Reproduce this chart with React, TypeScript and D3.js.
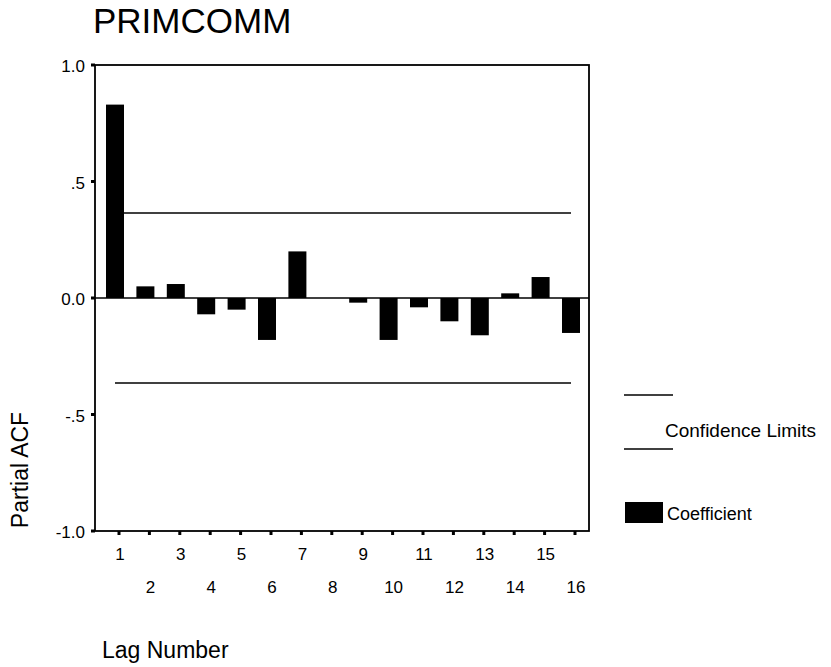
import React, { useEffect, useRef } from "react";
import * as d3 from "d3";

// partial autocorrelation, lags 1..16
const lags = [1, 2, 3, 4, 5, 6, 7, 8, 9, 10, 11, 12, 13, 14, 15, 16];
const pacf = [0.83, 0.05, 0.06, -0.07, -0.05, -0.18, 0.2, 0.0, -0.02, -0.18, -0.04, -0.1, -0.16, 0.02, 0.09, -0.15];
const confLimit = 0.365;
const yTicks = [1, 0.5, 0, -0.5, -1];
const yTickLabels = ["1.0", ".5", "0.0", "-.5", "-1.0"];

const App = () => {
  const ref = useRef<SVGSVGElement>(null);

  useEffect(() => {
    const svg = d3.select(ref.current);
    svg.selectAll("*").remove();

    const left = 95, right = 589, top = 65, bottom = 531;
    const font = "'Liberation Sans', Arial, sans-serif";

    const x = d3.scaleLinear().domain([1, 16]).range([115, 571]);
    const y = d3.scaleLinear().domain([-1, 1]).range([bottom, top]);
    const barW = 18;

    svg.attr("font-family", font);

    // title
    svg.append("text")
      .attr("x", 93).attr("y", 33)
      .attr("font-size", 35)
      .text("PRIMCOMM");

    // frame
    svg.append("rect")
      .attr("x", left).attr("y", top)
      .attr("width", right - left).attr("height", bottom - top)
      .attr("fill", "none").attr("stroke", "#000").attr("stroke-width", 1.8);

    // confidence limits
    [confLimit, -confLimit].forEach(v => {
      svg.append("line")
        .attr("x1", x(1)).attr("x2", x(16))
        .attr("y1", y(v)).attr("y2", y(v))
        .attr("stroke", "#000").attr("stroke-width", 1.6);
    });

    // bars
    svg.append("g").selectAll("rect")
      .data(pacf)
      .join("rect")
        .attr("x", (d, i) => x(lags[i]) - barW / 2)
        .attr("y", d => y(Math.max(0, d)))
        .attr("width", barW)
        .attr("height", d => Math.abs(y(d) - y(0)))
        .attr("fill", "#000");

    // zero line
    svg.append("line")
      .attr("x1", left).attr("x2", right)
      .attr("y1", y(0)).attr("y2", y(0))
      .attr("stroke", "#000").attr("stroke-width", 1.6);

    // y ticks
    const yg = svg.append("g");
    yTicks.forEach((t, i) => {
      yg.append("line")
        .attr("x1", left - 4).attr("x2", left)
        .attr("y1", y(t)).attr("y2", y(t))
        .attr("stroke", "#000").attr("stroke-width", 3);
      yg.append("text")
        .attr("x", left - 10).attr("y", y(t) + 7)
        .attr("text-anchor", "end")
        .attr("font-size", 17)
        .text(yTickLabels[i]);
    });

    // x ticks, odd lags on first row, even on second
    const xg = svg.append("g");
    lags.forEach(l => {
      xg.append("line")
        .attr("x1", x(l) + 4).attr("x2", x(l) + 4)
        .attr("y1", bottom).attr("y2", bottom + 4)
        .attr("stroke", "#000").attr("stroke-width", 3);
      xg.append("text")
        .attr("x", x(l) + 5)
        .attr("y", l % 2 === 1 ? 560 : 593)
        .attr("text-anchor", "middle")
        .attr("font-size", 17)
        .text(l);
    });

    // axis titles
    svg.append("text")
      .attr("transform", "translate(28,470) rotate(-90)")
      .attr("text-anchor", "middle")
      .attr("font-size", 23)
      .text("Partial ACF");
    svg.append("text")
      .attr("x", 102).attr("y", 658)
      .attr("font-size", 23)
      .text("Lag Number");

    // legend
    const lg = svg.append("g");
    [395, 449].forEach(ly => {
      lg.append("line")
        .attr("x1", 624).attr("x2", 673)
        .attr("y1", ly).attr("y2", ly)
        .attr("stroke", "#000").attr("stroke-width", 1.6);
    });
    lg.append("text")
      .attr("x", 665).attr("y", 437)
      .attr("font-size", 19)
      .text("Confidence Limits");
    lg.append("rect")
      .attr("x", 625).attr("y", 502)
      .attr("width", 38).attr("height", 21)
      .attr("fill", "#000");
    lg.append("text")
      .attr("x", 667).attr("y", 520)
      .attr("font-size", 18)
      .text("Coefficient");
  }, []);

  return (
    <svg ref={ref} width={831} height={667}
      style={{ position: "absolute", left: 0, top: 0, background: "#fff" }} />
  );
};

export default App;
